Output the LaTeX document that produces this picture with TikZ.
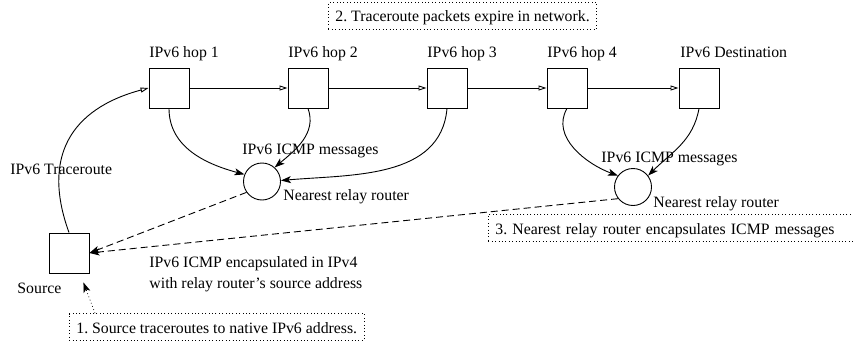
\documentclass[tikz,border=0pt]{standalone}
\usepackage{fontspec}
\setmainfont{Liberation Serif}
\usetikzlibrary{arrows.meta,calc}

\begin{document}
\begin{tikzpicture}[
	x=1pt, y=-1pt,
	font=\fontsize{15.8}{21}\selectfont\frenchspacing,
	line width=0.9pt,
	host/.style={draw, minimum size=40pt, inner sep=0pt},
	relay/.style={draw, circle, minimum size=37pt, inner sep=0pt},
	lbl/.style={anchor=base west, inner sep=0pt},
	note/.style={draw, line width=0.7pt, dash pattern=on 0.8pt off 2.6pt, anchor=base west,
		inner xsep=7pt, inner ysep=3.5pt, text height=16pt, text depth=3.5pt},
	fwd/.style={-{Triangle[open,length=8pt,width=5pt]}},
	icmp/.style={-{Stealth[length=10pt,width=7pt,inset=2.5pt]}},
	encap/.style={icmp, dash pattern=on 7pt off 4pt},
	hint/.style={icmp, line width=0.7pt, dash pattern=on 0.8pt off 2.6pt}
	]

	\useasboundingbox (0,0) rectangle (853,345);

	% hosts along the IPv6 path
	\node[host] (src)  at (69,253) {};
	\node[host] (hop1) at (169,88) {};
	\node[host] (hop2) at (308,88) {};
	\node[host] (hop3) at (447,88) {};
	\node[host] (hop4) at (567,88) {};
	\node[host] (dest) at (699,88) {};

	\node[relay] (relay1) at (262,181.5) {};
	\node[relay] (relay2) at (633,187) {};

	\node[lbl] (lhop1) at (149,57) {IPv6 hop 1};
	\node[lbl] (lhop2) at (288,57) {IPv6 hop 2};
	\node[lbl] (lhop3) at (427,57) {IPv6 hop 3};
	\node[lbl] (lhop4) at (547,57) {IPv6 hop 4};
	\node[lbl] (ldest) at (680,57) {IPv6 Destination};
	\node[lbl] (lsrc)  at (17,293) {Source};
	\node[lbl] (ltrace) at (10,174) {IPv6 Traceroute};
	\node[lbl] (lmsg1) at (242,154) {IPv6 ICMP messages};
	\node[lbl] (lmsg2) at (601,162) {IPv6 ICMP messages};
	\node[lbl] (lrel1) at (283,200) {Nearest relay router};
	\node[lbl] (lrel2) at (653,207) {Nearest relay router};
	\node[lbl] (lenc1) at (149,267) {IPv6 ICMP encapsulated in IPv4};
	\node[lbl] (lenc2) at (149,288) {with relay router's source address};

	\node[note] (note2) at (328,22) {2. Traceroute packets expire in network.};
	\node[note] (note1) at (69,333) {1. Source traceroutes to native IPv6 address.};
	\node[note, text width=380pt, align=left] (note3) at (488,234) {3. Nearest relay router encapsulates ICMP messages};

	% forwarding
	\draw[fwd] (src.north) to[out=110,in=195,looseness=1.25] (hop1.west);
	\draw[fwd] (hop1) -- (hop2);
	\draw[fwd] (hop2) -- (hop3);
	\draw[fwd] (hop3) -- (hop4);
	\draw[fwd] (hop4) -- (dest);

	% ICMP replies
	\draw[icmp] (hop1.south) to[out=-90,in=165] (relay1.158);
	\draw[icmp] (hop2.south) to[out=-70,in=40] (relay1.48);
	\draw[icmp] (hop3.south) to[out=-95,in=5] (relay1.3);
	\draw[icmp] (hop4.south) to[out=-120,in=160] (relay2.143);
	\draw[icmp] (dest.south) to[out=-100,in=45] (relay2.37);

	\draw[encap] (relay1.215) -- (src.east);
	\draw[encap] (relay2.218) -- (src.east);

	\draw[hint] ($(note1.north west)+(26,0)$) -- ($(src.south east)+(-6,9)$);

\end{tikzpicture}
\end{document}
